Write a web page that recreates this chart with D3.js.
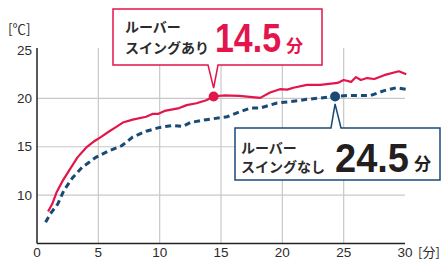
<!DOCTYPE html>
<html>
<head>
<meta charset="UTF-8">
<title>ルーバースイング</title>
<script src="https://d3js.org/d3.v7.min.js"></script>
<style>
  body { margin: 0; background: #fff; }
  text { font-family: "Liberation Sans", Arial, sans-serif; }
  .jp { font-family: "Noto Sans CJK JP", sans-serif; }
</style>
</head>
<body>
<div id="chart"></div>
<script>
// data: [minutes, °C]
var swingOn = [[0.9,8.3],[1.25,9.1],[1.6,10.3],[2.1,11.5],[2.6,12.5],[3.3,13.9],[4.0,14.9],[4.7,15.6],
  [5.2,16.0],[5.9,16.6],[6.4,17.0],[7.0,17.5],[7.8,17.8],[8.9,18.1],[9.45,18.4],[9.9,18.4],[10.4,18.7],
  [11.6,19.0],[12.2,19.3],[13.0,19.5],[13.8,19.8],[14.4,20.2],[15.2,20.3],[16.5,20.25],[18.2,20.05],
  [19.0,20.6],[19.8,20.95],[20.4,20.9],[20.9,21.1],[22.0,21.4],[23.1,21.4],[24.5,21.6],[25.0,21.9],
  [25.6,21.7],[26.0,22.2],[26.4,21.9],[26.9,22.1],[27.5,22.0],[28.3,22.4],[29.5,22.8],[30.1,22.5]];
var swingOff = [[0.7,7.2],[1.1,8.1],[1.7,9.1],[2.2,10.5],[2.9,11.8],[3.7,12.9],[4.8,13.9],[5.9,14.6],
  [6.9,15.1],[7.8,16.0],[8.9,16.6],[10.0,17.0],[11.1,17.2],[11.9,17.1],[12.5,17.5],[13.8,17.8],
  [15.5,18.1],[16.5,18.6],[17.4,19.0],[18.2,19.0],[19.5,19.5],[21.5,19.8],[22.0,19.9],[24.3,20.2],
  [25.3,20.3],[27.2,20.3],[28.3,20.8],[29.3,21.1],[30.3,20.9]];
var markOn = [14.4, 20.2];
var markOff = [24.3, 20.2];
var xTicks = [0, 5, 10, 15, 20, 25, 30];
var yTicks = [10, 15, 20, 25];
var xGrid = [5, 10, 15, 20, 25];
var yGrid = [10, 15, 20];

var red = "#e3154a", navy = "#184a75", ink = "#2b2b2b";

var svg = d3.select("#chart").append("svg")
  .attr("width", 445).attr("height", 260);

var x = d3.scaleLinear().domain([0, 30]).range([37, 405]);
var y = d3.scaleLinear().domain([5, 25]).range([243.5, 50]);

// grid
svg.selectAll(".vg").data(xGrid).enter().append("line")
  .attr("x1", d => x(d)).attr("x2", d => x(d))
  .attr("y1", y(5)).attr("y2", y(25) - 2)
  .attr("stroke", "#c8c8c8").attr("stroke-width", 1.2);
svg.selectAll(".hg").data(yGrid).enter().append("line")
  .attr("x1", x(0)).attr("x2", x(30))
  .attr("y1", d => y(d)).attr("y2", d => y(d))
  .attr("stroke", "#c8c8c8").attr("stroke-width", 1.2);

// axes
svg.append("line").attr("x1", x(0)).attr("x2", x(0))
  .attr("y1", y(25) - 2).attr("y2", y(5)).attr("stroke", "#222").attr("stroke-width", 1.5);
svg.append("line").attr("x1", x(0)).attr("x2", x(30))
  .attr("y1", y(5)).attr("y2", y(5)).attr("stroke", "#222").attr("stroke-width", 1.5);

svg.selectAll(".yt").data(yTicks).enter().append("text")
  .attr("x", 32).attr("y", d => y(d)).attr("dy", "0.35em")
  .attr("text-anchor", "end").attr("font-size", 13.5).attr("fill", ink)
  .text(d => d);
svg.selectAll(".xt").data(xTicks).enter().append("text")
  .attr("x", d => x(d)).attr("y", 252.5).attr("dy", "0.35em")
  .attr("text-anchor", "middle").attr("font-size", 13.5).attr("fill", ink)
  .text(d => d);
svg.append("text").attr("class", "jp").attr("x", 8).attr("y", 29).attr("dy", "0.35em")
  .attr("font-size", 13.5).attr("fill", ink).text("[℃]");
svg.append("text").attr("class", "jp").attr("x", 418).attr("y", 252).attr("dy", "0.35em")
  .attr("font-size", 13).attr("fill", ink).text("[分]");

// lines
var line = d3.line().x(d => x(d[0])).y(d => y(d[1]));
svg.append("path").datum(swingOff).attr("d", line)
  .attr("fill", "none").attr("stroke", navy).attr("stroke-width", 3)
  .attr("stroke-dasharray", "6,4");
svg.append("path").datum(swingOn).attr("d", line)
  .attr("fill", "none").attr("stroke", red).attr("stroke-width", 2.2)
  .attr("stroke-linejoin", "round");

// callouts
function callout(box, tip, base, color) {
  // box: [x0,y0,x1,y1], tip: [x,y], base: [xa,xb] on the edge facing the tip
  var up = tip[1] < box[1];
  var p = d3.path();
  p.moveTo(box[0], box[1]);
  if (up) {
    p.lineTo(base[0], box[1]); p.lineTo(tip[0], tip[1]); p.lineTo(base[1], box[1]);
  }
  p.lineTo(box[2], box[1]); p.lineTo(box[2], box[3]);
  if (!up) {
    p.lineTo(base[1], box[3]); p.lineTo(tip[0], tip[1]); p.lineTo(base[0], box[3]);
  }
  p.lineTo(box[0], box[3]); p.closePath();
  svg.append("path").attr("d", p.toString())
    .attr("fill", "#fff").attr("stroke", color).attr("stroke-width", 1.5);
}

callout([113, 9, 322, 65], [x(markOn[0]), 88], [208, 218], red);
callout([235, 128, 440, 180], [x(markOff[0]), 104], [331, 341], navy);

svg.append("circle").attr("cx", x(markOn[0])).attr("cy", y(markOn[1]))
  .attr("r", 5).attr("fill", red);
svg.append("circle").attr("cx", x(markOff[0])).attr("cy", y(markOff[1]))
  .attr("r", 5).attr("fill", navy);

function label(x0, y1, y2, lines, num, numX, numW, numY, unitX, unitY, color) {
  svg.append("text").attr("class", "jp").attr("x", x0).attr("y", y1).attr("dy", "0.35em")
    .attr("font-size", 14).attr("font-weight", 700).attr("fill", ink).text(lines[0]);
  svg.append("text").attr("class", "jp").attr("x", x0).attr("y", y2).attr("dy", "0.35em")
    .attr("font-size", 14).attr("font-weight", 700).attr("fill", ink).text(lines[1]);
  svg.append("text").attr("x", numX).attr("y", numY)
    .attr("font-family", "Roboto, sans-serif")
    .attr("font-size", 41).attr("font-weight", 700).attr("fill", color)
    .attr("textLength", numW).attr("lengthAdjust", "spacingAndGlyphs").text(num);
  svg.append("text").attr("class", "jp").attr("x", unitX).attr("y", unitY).attr("dy", "0.35em")
    .attr("font-size", 17).attr("font-weight", 700).attr("fill", color).text("分");
}

label(125, 27, 48, ["ルーバー", "スイングあり"], "14.5", 215, 66, 52, 286, 46, red);
label(241, 148, 167, ["ルーバー", "スイングなし"], "24.5", 335, 74, 172, 414, 164, "#231f20");
</script>
</body>
</html>
